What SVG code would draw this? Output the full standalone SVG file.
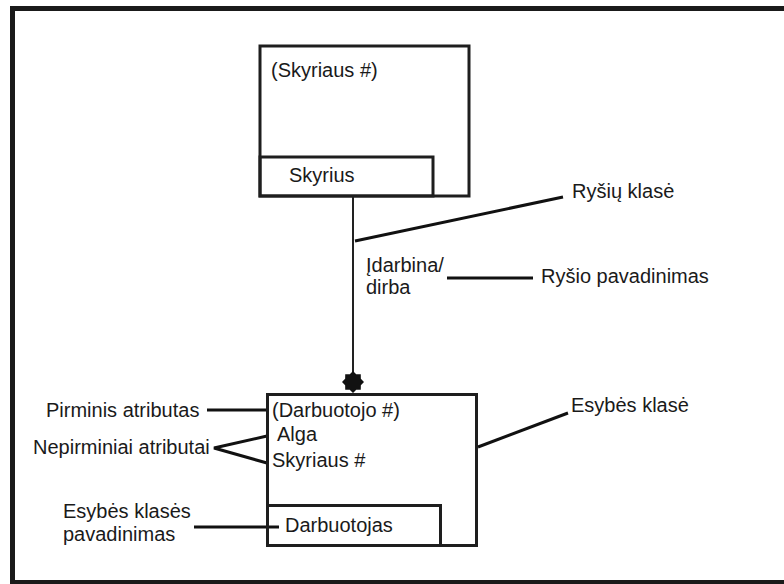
<svg xmlns="http://www.w3.org/2000/svg" width="784" height="584" viewBox="0 0 784 584">
  <style>
    .box { fill: none; stroke: #1e1e1e; stroke-width: 3; }
    .lead { fill: none; stroke: #111; stroke-width: 3; }
    .rel { fill: none; stroke: #222; stroke-width: 2; }
    text { font-family: "Liberation Sans", Arial, sans-serif; font-size: 20px; fill: #1a1a1a; }
  </style>
  <defs>
    <!-- eight-point star used as the "many" end of a relationship -->
    <path id="manyStar" d="M11,0 L7.85,3.25 L7.78,7.78 L3.25,7.85 L0,11 L-3.25,7.85 L-7.78,7.78 L-7.85,3.25 L-11,0 L-7.85,-3.25 L-7.78,-7.78 L-3.25,-7.85 L0,-11 L3.25,-7.85 L7.78,-7.78 L7.85,-3.25 Z" fill="#111"/>
  </defs>

  <rect x="0" y="0" width="784" height="584" fill="#fff"/>
  <!-- frame -->
  <rect x="12.5" y="8.5" width="800" height="574" fill="none" stroke="#1a1a1a" stroke-width="5"/>

  <!-- connectors -->
  <g id="connectors">
    <line class="rel" x1="353" y1="196" x2="353" y2="382"/>
    <use href="#manyStar" x="353" y="382"/>
    <line class="lead" x1="355" y1="241" x2="563" y2="197"/>
    <line class="lead" x1="447" y1="278" x2="533" y2="278"/>
    <line class="lead" x1="478" y1="447" x2="568" y2="413"/>
    <line class="lead" x1="207" y1="410" x2="268" y2="410"/>
    <polyline class="lead" points="267,436 214,448 267,463"/>
    <line class="lead" x1="194" y1="527" x2="279" y2="527"/>
  </g>

  <!-- entity: Skyrius -->
  <g id="skyrius">
    <rect class="box" x="260" y="46" width="209" height="150"/>
    <rect class="box" x="260" y="157" width="173" height="39"/>
    <text x="271" y="77">(Skyriaus #)</text>
    <text x="289" y="182">Skyrius</text>
  </g>

  <!-- entity: Darbuotojas -->
  <g id="darbuotojas">
    <rect class="box" x="267.5" y="394.5" width="209" height="151"/>
    <rect class="box" x="267.5" y="505.5" width="173" height="40"/>
    <text x="272" y="417">(Darbuotojo #)</text>
    <text x="277" y="441">Alga</text>
    <text x="272" y="467">Skyriaus #</text>
    <text x="285" y="532">Darbuotojas</text>
  </g>

  <!-- labels -->
  <g id="label-rysiu-klase"><text x="572" y="198">Ryšių klasė</text></g>
  <g id="label-rysio-pavadinimas"><text x="541" y="283">Ryšio pavadinimas</text></g>
  <g id="label-relationship-name">
    <text x="366" y="272">Įdarbina/</text>
    <text x="366" y="294">dirba</text>
  </g>
  <g id="label-esybes-klase"><text x="571" y="412">Esybės klasė</text></g>
  <g id="label-pirminis"><text x="46" y="417">Pirminis atributas</text></g>
  <g id="label-nepirminiai"><text x="33" y="454">Nepirminiai atributai</text></g>
  <g id="label-esybes-klases-pavadinimas">
    <text x="63" y="518">Esybės klasės</text>
    <text x="63" y="541">pavadinimas</text>
  </g>
</svg>
